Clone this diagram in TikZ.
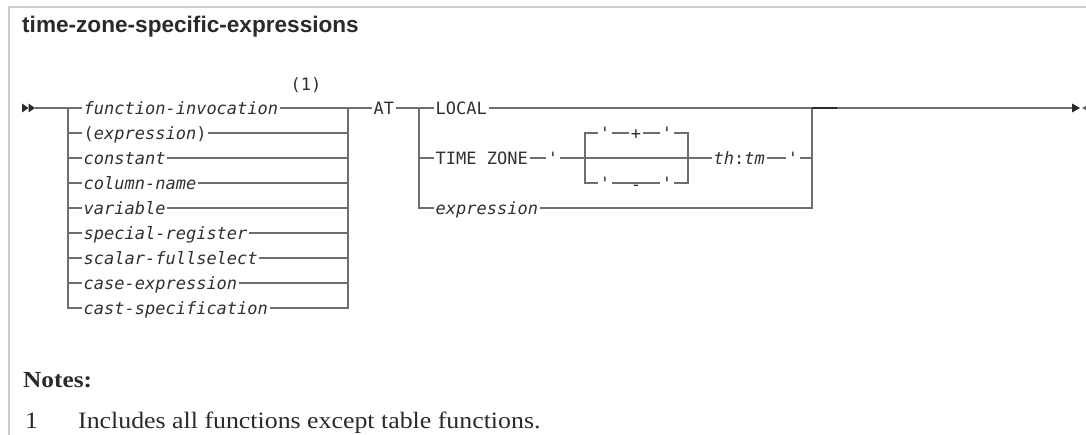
\documentclass[tikz,border=0pt]{standalone}
\usepackage{fontspec}
\newfontfamily\dmono[Ligatures=TeXOff]{DejaVu Sans Mono}
\newfontfamily\titlefont{Liberation Sans}
\newfontfamily\notefont[FakeStretch=1.1]{Liberation Serif}
\definecolor{linecol}{HTML}{6E6E6E}
\definecolor{txtcol}{HTML}{303030}
\definecolor{framecol}{HTML}{CCCCCC}
\definecolor{darkcol}{HTML}{2A2A2A}
\tikzset{
  lbl/.style={inner xsep=1.5pt, inner ysep=0pt, text height=12.6pt, text depth=0.2pt,
    font=\dmono\fontsize{17}{20}\selectfont, text=txtcol},
  conn/.style={draw=linecol, line width=1.4pt},
}
\begin{document}
\begin{tikzpicture}[x=1pt,y=-1pt]
\useasboundingbox (0,0) rectangle (1086,435);
% frame
\draw[framecol, line width=2pt] (1090,7) -- (9,7) -- (9,440);
% title
\node[anchor=base west, inner sep=0pt, text=darkcol, font=\titlefont\bfseries\fontsize{22.6}{26}\selectfont] (title) at (22,33) {time-zone-specific-expressions};
% notes
\node[anchor=base west, inner sep=0pt, text=darkcol, font=\notefont\bfseries\fontsize{23}{27}\selectfont] (notes) at (23,387) {Notes:};
\node[anchor=base west, inner sep=0pt, text=darkcol, font=\notefont\fontsize{23.5}{27}\selectfont] (n1) at (25,428) {1};
\node[anchor=base west, inner sep=0pt, text=darkcol, font=\notefont\fontsize{23.5}{27}\selectfont] (n1t) at (78,428) {Includes all functions except table functions.};

% start arrows
\fill[darkcol] (22,103.5) -- (28.5,108) -- (22,112.5) -- cycle;
\fill[darkcol] (28.5,103.5) -- (35,108) -- (28.5,112.5) -- cycle;
\coordinate (s) at (35,108);
\coordinate (l1) at (68,108);
\coordinate (r1) at (348,108);

% group 1 labels
\node[lbl, anchor=west] (fi) at (82,108) {\itshape function-invocation};
\node[lbl, anchor=west] (pe) at (82,133) {(\textit{expression})};
\node[lbl, anchor=west] (co) at (82,158) {\itshape constant};
\node[lbl, anchor=west] (cn) at (82,183) {\itshape column-name};
\node[lbl, anchor=west] (va) at (82,208) {\itshape variable};
\node[lbl, anchor=west] (sr) at (82,233) {\itshape special-register};
\node[lbl, anchor=west] (sf) at (82,258) {\itshape scalar-fullselect};
\node[lbl, anchor=west] (ce) at (82,283) {\itshape case-expression};
\node[lbl, anchor=west] (cs) at (82,308) {\itshape cast-specification};
\node[lbl, anchor=center] (fn1) at (306,84) {(1)};

\node[lbl, anchor=west] (at) at (372,108) {AT};

% group 1 connectors
\draw[conn] (s) -- (fi.west);
\draw[conn] (fi.east) -- (at.west);
\draw[conn] (l1) |- (cs.west);
\draw[conn] (cs.east) -| (r1);
\foreach \n in {pe,co,cn,va,sr,sf,ce} {
  \draw[conn] (\n.west -| l1) -- (\n.west);
  \draw[conn] (\n.east) -- (\n.east -| r1);
}

% group 2
\coordinate (l2) at (419,108);
\coordinate (r2) at (812,108);
\node[lbl, anchor=west] (lo) at (434,108) {LOCAL};
\node[lbl, anchor=west] (tz) at (434,158) {TIME ZONE};
\node[lbl, anchor=west] (ex) at (434,208) {\itshape expression};
\node[lbl, anchor=center] (q1) at (553,158) {'};
\coordinate (ibl) at (585,158);
\coordinate (ibr) at (688,158);
\node[lbl, anchor=center] (q2) at (605,133) {'};
\node[lbl, anchor=center] (pl) at (636,133) {+};
\node[lbl, anchor=center] (q3) at (667,133) {'};
\node[lbl, anchor=center] (q4) at (605,183) {'};
\node[lbl, anchor=center] (mi) at (636,184.5) {-};
\node[lbl, anchor=center] (q5) at (667,183) {'};
\node[lbl, anchor=west] (th) at (712,158) {\textit{th}:\textit{tm}};
\node[lbl, anchor=center] (q6) at (793,158) {'};

\draw[conn] (at.east) -- (lo.west);
\draw[conn] (l2) |- (ex.west);
\draw[conn] (tz.west -| l2) -- (tz.west);
\draw[conn] (tz.east) -- (q1.west);
\draw[conn] (q1.east) -- (th.west);
\draw[conn] (q2.west) -| (ibl) |- (q4.west);
\draw[conn] (q3.east) -| (ibr) |- (q5.east);
\draw[conn] (q2.east) -- (pl.west);
\draw[conn] (pl.east) -- (q3.west);
\draw[conn] (q4.east) -- (q5.west);
\draw[conn] (th.east) -- (q6.west);
\draw[conn] (q6.east) -- (q6.east -| r2);
\draw[conn] (ex.east) -| (r2);
\draw[conn] (lo.east) -- (r2);

% end
\coordinate (dk) at (837,108);
\coordinate (e) at (1073,108);
\draw[darkcol, line width=1.8pt] (r2) -- (dk);
\draw[conn] (dk) -- (e);
\fill[darkcol] (1072,103.5) -- (1080,108) -- (1072,112.5) -- cycle;
\fill[darkcol!70] (1090,103.5) -- (1082,108) -- (1090,112.5) -- cycle;
\end{tikzpicture}
\end{document}
